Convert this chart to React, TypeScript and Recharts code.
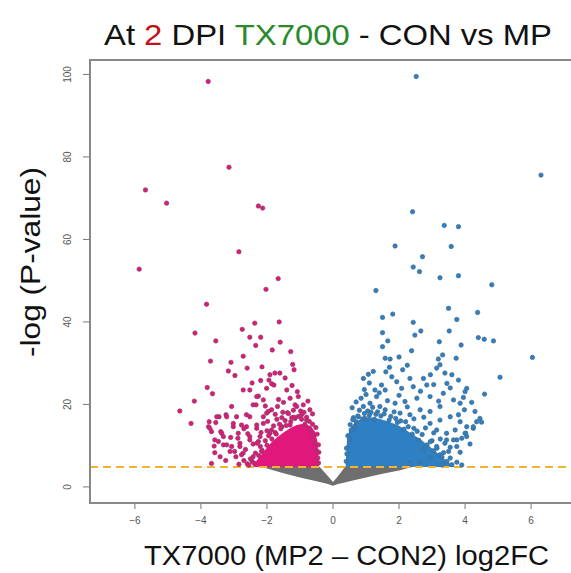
import React from 'react';
import {
  ComposedChart,
  Scatter,
  Area,
  XAxis,
  YAxis,
  ReferenceLine,
} from 'recharts';

// log2FC / -log(P)
const downPoints: [number, number][] = [
  [-3.78, 98.3], [-3.15, 77.5], [-5.68, 72], [-5.04, 68.8], [-2.26, 68.1], [-2.13, 67.6],
  [-2.85, 57], [-5.87, 52.8], [-1.66, 50.5], [-2.03, 47.9], [-3.83, 44.3], [-1.63, 40],
  [-2.37, 39.7], [-2.75, 38.2], [-4.18, 37.3], [-2.52, 36.3], [-2.19, 36.3], [-3.55, 35.4],
  [-1.6, 35.1], [-2.34, 34.3], [-1.84, 33.2], [-1.28, 32.8], [-2.72, 31.7], [-3.71, 30.5],
  [-3.09, 30.2], [-1.22, 29.7], [-2.15, 29.1], [-2.6, 28.8], [-1.18, 28.4], [-3.17, 28.1],
  [-1.61, 27.6], [-1.76, 27.6], [-1.91, 27.2], [-2.97, 27], [-1.45, 26.4], [-1.94, 25.9],
  [-2.19, 25.8], [-1.86, 25], [-1.79, 24.7], [-3.81, 24.1], [-2.01, 23.9], [-2.72, 23.5],
  [-2.52, 23.5], [-1.4, 23.5], [-3.65, 22.6], [-2.26, 22], [-1.05, 21.9], [-2.31, 21.9],
  [-1.3, 21.5], [-2.11, 21.1], [-4.2, 20.8], [-1.5, 20.5], [-2.33, 19.9], [-1.15, 19.9],
  [-0.9, 19.9], [-2.42, 19.9], [-1.68, 19.5], [-3.07, 19.5], [-1.1, 19.5], [-0.7, 18.7],
  [-1.86, 18.7], [-4.64, 18.4], [-1.96, 18.3], [-1.38, 18], [-2.01, 17.9], [-0.95, 17.5],
  [-3.24, 17.5], [-2.62, 17.5], [-3.45, 17], [-2.92, 17], [-2.11, 17], [-2.52, 17],
  [-3.22, 17], [-3.52, 17], [-0.8, 16.2], [-3.75, 15.8], [-3.55, 15.6], [-4.3, 15.4],
  [-3.02, 15.4], [-2.11, 15.4], [-2.77, 15], [-2.31, 15], [-1.3, 15], [-3.77, 14.6],
  [-2.62, 14.6], [-3.02, 14.6], [-1.55, 14.6], [-2.31, 14.2], [-3.73, 14.2], [-1.86, 13.8],
  [-3.68, 13.4], [-3.4, 13.4], [-3.37, 13], [-1.91, 13], [-2.87, 13], [-2.52, 12.2],
  [-2.21, 12.2], [-3.32, 12.2], [-3.58, 11.4], [-2.52, 11.4], [-2.26, 11], [-3.47, 11],
  [-2.82, 10.6], [-3.32, 10.2], [-3.22, 10.2], [-3.07, 9.8], [-2.82, 9.8], [-2.16, 8.6],
  [-3.12, 8.6], [-3.58, 8.3], [-2.72, 8.2], [-2.77, 7.8], [-2.42, 7.3], [-2.94, 7.3],
  [-3.42, 7.3], [-3.68, 5.7], [-2.6, 5.6], [-2.45, 6.2],
  [-2.35, 8.2], [-2.2, 9.8], [-2.05, 11.2], [-1.95, 12.4], [-1.75, 13.2], [-1.62, 15.2],
  [-1.45, 16.1], [-1.25, 16.8], [-1.05, 17.1], [-0.85, 15.2], [-0.7, 14.1], [-0.62, 12.4],
  [-0.55, 10.6], [-0.5, 8.8], [-0.46, 7], [-0.44, 5.8], [-1.7, 16.4], [-1.35, 17.8],
  [-1.15, 16.6], [-0.98, 18.4], [-2.5, 6.8], [-2.7, 6.4], [-2.85, 5.5], [-2.3, 10.6],
  [-2.55, 5.3], [-2.4, 5.8], [-2.25, 7.6], [-2.15, 8.9], [-2.0, 10.1], [-1.85, 11.6],
  [-1.72, 12.8], [-1.58, 14.1], [-1.42, 14.9], [-1.28, 15.8], [-1.18, 16.9], [-0.95, 16.4],
  [-0.8, 16.9], [-0.72, 15.9], [-0.62, 15.2], [-0.52, 14.4], [-0.48, 12.8], [-0.44, 10.2],
  [-0.43, 8.4], [-2.0, 13.6], [-1.8, 14.8], [-1.55, 16.8], [-1.2, 18.6], [-1.52, 18.1],
  [-0.88, 18.1], [-1.98, 15.9], [-2.18, 13.2], [-2.42, 10.4], [-2.65, 9.1], [-2.58, 12.9],
  [-1.65, 21.2], [-1.08, 23.1], [-1.24, 24.6], [-2.45, 25.2], [-2.05, 19.6], [-1.75, 17.6],
  [-0.76, 20.8], [-0.62, 17.7], [-2.88, 11.8], [-2.98, 8.6], [-3.25, 6.4], [-2.7, 14.1],
  [-3.1, 12], [-3.6, 9.9],
];

const upPoints: [number, number][] = [
  [2.52, 99.5], [6.3, 75.6], [2.41, 66.7], [3.37, 63.4], [3.8, 63.1], [1.88, 58.4],
  [3.58, 58.3], [2.71, 55.8], [2.43, 53.3], [2.62, 52.2], [3.24, 50.7], [3.8, 51.2],
  [4.81, 49], [1.3, 47.6], [3.5, 43.3], [4.38, 42.3], [1.5, 41.1], [1.81, 41.9],
  [2.43, 39.9], [3.75, 40.6], [1.5, 37.4], [2.48, 36.8], [2.66, 37.8], [3.52, 37.8],
  [4.4, 36.2], [4.58, 35.8], [4.86, 35.4], [1.66, 35.4], [3.22, 35.2], [3.88, 34.4],
  [1.5, 34], [2.38, 33], [3.32, 32], [6.04, 31.4], [1.58, 31.2], [1.73, 31],
  [3.73, 31.2], [3.19, 31], [3.24, 29.6], [1.71, 29], [2.11, 28.4], [3.14, 28.8],
  [3.39, 27.6], [3.6, 27.2], [3.8, 25.9], [5.06, 26.6], [0.92, 26.3], [1.07, 27.3],
  [1.22, 28], [4.05, 23.9], [4.0, 23.1], [4.59, 22.5], [3.95, 21.7], [3.85, 20.3],
  [3.98, 18.7], [4.45, 16.6], [4.5, 15.7], [4.25, 14.2], [4.02, 13], [3.75, 11.4],
  [3.44, 11.4],
  [1.78, 26.7], [1.93, 25.5], [2.33, 26.3], [2.74, 26.3], [2.84, 24.7], [2.43, 24.3],
  [2.08, 23.9], [1.47, 24.7], [1.58, 23.5], [1.27, 23.5], [1.32, 21.9], [1.12, 20.3],
  [0.92, 19.5], [0.77, 17], [0.67, 14.6], [0.97, 16.6], [1.42, 19.5], [1.58, 18.7],
  [1.88, 20.3], [2.18, 20.7], [2.54, 21.5], [2.94, 21.9], [3.34, 22.7], [3.65, 21.1],
  [3.24, 19.5], [2.94, 18.3], [2.64, 18.7], [2.33, 17.5], [2.03, 17.9], [3.55, 17],
  [3.24, 16.2], [2.94, 15.4], [3.85, 15.8], [4.05, 14.6], [3.7, 13.8], [3.44, 13],
  [3.14, 13.8], [4, 13], [4.35, 15.8], [4.25, 14.6], [3.9, 11.8], [3.65, 11.4],
  [3.39, 10.6], [3.14, 9.8], [2.74, 9], [3.75, 9.8], [3.5, 8.6], [3.24, 7.8],
  [2.94, 7], [2.64, 6.1], [2.33, 5.7], [4.05, 12.2],
  [0.42, 8], [0.5, 11.5], [0.55, 13.8], [0.7, 15.8], [0.9, 16.5], [1.1, 17.3],
  [1.25, 16.4], [1.45, 17.2], [1.7, 16.2], [1.95, 15.6], [2.15, 14], [2.4, 12.8],
  [2.6, 11.3], [2.85, 10.2], [3.05, 8.8], [3.3, 7.2], [3.45, 6.2], [3.6, 5.4],
  [1.05, 18.4], [1.35, 18.2], [2.2, 15.8], [2.55, 13.5], [3.0, 11.2], [0.62, 16.8],
  [0.8, 18.6],
  [0.4, 6.2], [0.41, 9.4], [0.45, 12.4], [0.52, 15.1], [0.6, 16.3], [0.75, 17.2],
  [0.95, 17.8], [1.15, 18.1], [1.3, 17.6], [1.55, 17.7], [1.75, 17.1], [1.9, 16.6],
  [2.05, 16], [2.28, 14.6], [2.45, 14.2], [2.7, 12.7], [2.95, 11], [3.15, 9.4],
  [3.35, 8.3], [3.55, 7], [3.75, 6], [3.9, 5.3], [3.3, 5.4], [0.58, 19.2],
  [0.7, 20.6], [0.85, 21.5], [1.0, 22.4], [1.2, 19.3], [1.65, 20.9], [1.85, 18.2],
  [2.25, 19.4], [2.45, 16.5], [2.75, 16.9], [2.8, 14.3], [3.05, 13.1], [3.25, 11.6],
  [3.55, 9.6], [3.85, 8.4], [4.15, 10.4], [0.95, 23.6], [1.4, 22.8], [2.0, 22.2],
  [2.65, 23.2], [3.05, 24.8], [3.45, 25.1], [3.2, 20.8], [1.1, 25.2], [1.6, 27.9],
  [2.25, 29.5], [2.0, 31.5], [2.95, 27.2], [3.55, 24], [4.2, 20.5], [4.3, 18.3],
  [3.8, 17.5],
];

// dense cores (too many overlapping genes to pick apart)
const downCoreX = [-2.45, -2.3, -2.1, -1.9, -1.7, -1.5, -1.3, -1.1, -0.9, -0.7, -0.55, -0.47, -0.42];
const downCoreTop = [4.85, 6.5, 8.5, 10.5, 12, 13.2, 14.2, 15, 15.3, 14.8, 13.5, 11, 4.85];
const upCoreX = [0.38, 0.42, 0.5, 0.65, 0.85, 1.1, 1.4, 1.7, 2.0, 2.3, 2.6, 2.9, 3.2, 3.45, 3.7];
const upCoreTop = [4.85, 11, 14, 15.5, 16.5, 16.8, 16.5, 15.8, 14.8, 13.3, 11.8, 10, 8, 6.2, 4.85];

// non-significant genes under the cutoff
const nsX = [-2.15, -1.5, -1.0, -0.5, -0.4, -0.15, 0, 0.15, 0.36, 0.5, 1.0, 1.5, 2.0, 2.4];
const nsLow = [4.85, 3.3, 2.3, 1.4, 1.2, 0.7, 0.3, 0.7, 1.1, 1.4, 2.3, 3.2, 4.0, 4.85];
const nsHigh = [4.85, 4.85, 4.85, 4.85, 4.85, 2.6, 1.2, 2.6, 4.85, 4.85, 4.85, 4.85, 4.85, 4.85];

const cutoff = 4.85;
const xTicks = [-6, -4, -2, 0, 2, 4, 6];
const yTicks = [0, 20, 40, 60, 80, 100];
const xDomain: [number, number] = [-7.36, 7.36];
const yDomain: [number, number] = [-3.9, 103.5];

const downData = downPoints.map(([x, y]) => ({ x, y }));
const upData = upPoints.map(([x, y]) => ({ x, y }));
const downCore = downCoreX.map((x, i) => ({ x, band: [cutoff, downCoreTop[i]] }));
const upCore = upCoreX.map((x, i) => ({ x, band: [cutoff, upCoreTop[i]] }));
const nsData = nsX.map((x, i) => ({ x, band: [nsLow[i], nsHigh[i]] }));

const PINK = '#e0187c';
const BLUE = '#2f80c2';
const GREY = '#6e6e6e';
const BOX_COLOR = '#888888';

// chart geometry
const W = 590;
const H = 573;
const M = { top: 60, right: 14, bottom: 40, left: 50 };
const X_AXIS_H = 30;
const Y_AXIS_W = 40;

const dot = (fill: string, stroke: string) => (p: any) => (
  <circle cx={p.cx} cy={p.cy} r={2.2} fill={fill} stroke={stroke} strokeWidth={0.7} />
);

const XTick = ({ x, y, payload }: any) => (
  <text x={x} y={y} dy="0.71em" textAnchor="middle" fontSize={10} fill="#555"
    fontFamily="Liberation Sans, Arial, sans-serif">
    {String(payload.value).replace('-', '\u2212')}
  </text>
);

const YTick = ({ y, payload }: any) => (
  <text x={71} y={y} textAnchor="middle" fontSize={10} fill="#555"
    fontFamily="Liberation Sans, Arial, sans-serif" transform={`rotate(-90, 71, ${y})`}>
    {payload.value}
  </text>
);

export default function App() {
  const plotLeft = M.left + Y_AXIS_W;
  const plotTop = M.top;
  const plotW = W - plotLeft - M.right;
  const plotH = H - M.top - M.bottom - X_AXIS_H;
  return (
    <div style={{ position: 'absolute', left: 0, top: 0, width: 571, height: 573, overflow: 'hidden', background: '#fff' }}>
      <ComposedChart width={W} height={H} margin={M}>
        <XAxis type="number" dataKey="x" domain={xDomain} ticks={xTicks} axisLine={false}
          tickLine={{ stroke: '#777' }} tickSize={6} tickMargin={8} height={X_AXIS_H} tick={<XTick />}
          allowDataOverflow />
        <YAxis type="number" dataKey="y" domain={yDomain} ticks={yTicks} axisLine={false}
          tickLine={{ stroke: '#777' }} tickSize={7} width={Y_AXIS_W} tick={<YTick />} allowDataOverflow />
        <Area data={nsData} dataKey="band" type="linear" stroke="none" fill={GREY} fillOpacity={1}
          dot={false} activeDot={false} isAnimationActive={false} />
        <Area data={downCore} dataKey="band" type="linear" stroke="none" fill={PINK} fillOpacity={1}
          dot={false} activeDot={false} isAnimationActive={false} />
        <Area data={upCore} dataKey="band" type="linear" stroke="none" fill={BLUE} fillOpacity={1}
          dot={false} activeDot={false} isAnimationActive={false} />
        <Scatter data={downData} shape={dot(PINK, '#8a3f66')} isAnimationActive={false} />
        <Scatter data={upData} shape={dot(BLUE, '#3f6a8e')} isAnimationActive={false} />
        <ReferenceLine y={cutoff} stroke="#f2b233" strokeWidth={2} strokeDasharray="8 5" />
      </ComposedChart>
      <svg width={571} height={573} style={{ position: 'absolute', left: 0, top: 0, pointerEvents: 'none' }}
        fontFamily="Liberation Sans, Arial, sans-serif">
        {/* box around the plot area, as filled strips */}
        <rect x={plotLeft - 1} y={plotTop - 1} width={2} height={plotH + 2} fill={BOX_COLOR} />
        <rect x={plotLeft - 1} y={plotTop - 1} width={plotW + 2} height={2} fill={BOX_COLOR} />
        <rect x={plotLeft - 1} y={plotTop + plotH - 1} width={plotW + 2} height={2} fill={BOX_COLOR} />
        <text x={104} y={45} fontSize={29} fill="#111" textLength={448} lengthAdjust="spacingAndGlyphs">
          At <tspan fill="#c0141c">2</tspan> DPI <tspan fill="#2a8a2a">TX7000</tspan> - CON vs MP
        </text>
        <text x={144} y={565} fontSize={27} fill="#111" textLength={405} lengthAdjust="spacingAndGlyphs">
          TX7000 (MP2 {'\u2013'} CON2) log2FC
        </text>
        <text x={40} y={262} fontSize={27} fill="#111" textAnchor="middle" textLength={190}
          lengthAdjust="spacingAndGlyphs" transform="rotate(-90, 40, 262)">
          -log (P-value)
        </text>
      </svg>
    </div>
  );
}
